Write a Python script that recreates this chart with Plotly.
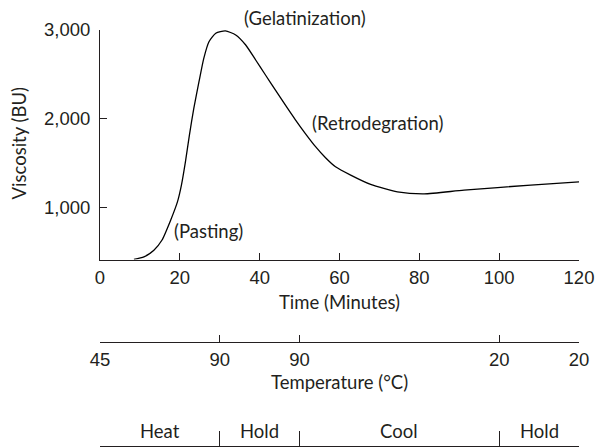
import plotly.graph_objects as go

# ---- data ----
time_min = [8.5, 11.0, 13.5, 15.5, 17.7, 19.4, 20.4, 21.4, 22.4, 23.5, 24.8, 26.0,
            27.3, 29.0, 31.4, 34.0, 36.5, 39.0, 41.5, 44.0, 46.5, 49.0, 51.5, 54.0,
            56.5, 59.0, 62.8, 67.8, 74.5, 81.2, 91.2, 107.9, 120.0]
viscosity_bu = [415, 443, 518, 630, 857, 1063, 1252, 1514, 1816, 2117, 2417, 2681,
                2868, 2963, 2990, 2944, 2831, 2662, 2490, 2320, 2150, 1985, 1830, 1685,
                1560, 1458, 1364, 1259, 1176, 1153, 1195, 1252, 1289]

time_ticks = [0, 20, 40, 60, 80, 100, 120]
visc_ticks = [1000, 2000, 3000]

temp_tick_times = [0, 30, 50, 100, 120]
temp_tick_labels = ["45", "90", "90", "20", "20"]

phase_bounds = [0, 30, 50, 100, 120]
phase_names = ["Heat", "Hold", "Cool", "Hold"]

stage_labels = ["(Gelatinization)", "(Retrodegration)", "(Pasting)"]

# ---- figure ----
INK = "#231f20"
TICKFONT = dict(family="Liberation Sans, Arial, sans-serif", size=18.5, color=INK)
TEXTFONT = dict(family="Lato, Open Sans, sans-serif", size=18.5, color=INK)

W, H = 598, 447
ML, MR, MT, MB = 100, 19, 30, 0
plot_h = H - MT - MB


def py(pix):
    """pixel row -> paper y"""
    return (H - MB - pix) / plot_h


fig = go.Figure()
fig.add_trace(go.Scatter(
    x=time_min, y=viscosity_bu, mode="lines",
    line=dict(color="black", width=1.3, shape="spline", smoothing=0.6),
    hoverinfo="skip", showlegend=False, cliponaxis=False))

# invisible helpers so that the extra axes are drawn
fig.add_trace(go.Scatter(x=phase_bounds, y=[None] * len(phase_bounds), xaxis="x2",
                         yaxis="y", mode="markers", showlegend=False, hoverinfo="skip"))
fig.add_trace(go.Scatter(x=phase_bounds, y=[None] * len(phase_bounds), xaxis="x3",
                         yaxis="y", mode="markers", showlegend=False, hoverinfo="skip"))

y_bottom = 413.4
ydom0 = py(259.5)

common_x = dict(range=[0, 120], showgrid=False, zeroline=False, showline=True,
                linecolor=INK, linewidth=1, tickcolor=INK, tickwidth=1,
                fixedrange=True)

fig.update_layout(
    width=W, height=H,
    margin=dict(l=ML, r=MR, t=MT, b=MB, pad=0),
    paper_bgcolor="white", plot_bgcolor="white",
    showlegend=False,
    xaxis=dict(**common_x, anchor="y", ticks="inside", ticklen=7,
               tickmode="array", tickvals=time_ticks, ticklabelstandoff=1,
               tickfont=TICKFONT),
    xaxis2=dict(**common_x, overlaying="x", anchor="free", position=py(341.7),
                side="bottom", ticks="inside", ticklen=7, ticklabelstandoff=1,
                tickmode="array", tickvals=temp_tick_times,
                ticktext=temp_tick_labels, tickfont=TICKFONT),
    xaxis3=dict(**common_x, overlaying="x", anchor="free", position=py(446),
                side="bottom", ticks="inside", ticklen=15,
                tickmode="array", tickvals=phase_bounds, showticklabels=False),
    yaxis=dict(domain=[ydom0, 1], range=[y_bottom, 3000], showgrid=False,
               zeroline=False, showline=True, linecolor=INK, linewidth=1,
               ticks="inside", ticklen=7, tickcolor=INK, tickwidth=1,
               tickmode="array", tickvals=visc_ticks, tickformat=",",
               ticklabelstandoff=5, tickfont=TICKFONT, fixedrange=True),
)

ann = []
# axis titles
ann.append(dict(text="Viscosity (BU)", xref="paper", yref="paper",
                x=(18.5 - ML) / (W - ML - MR), y=py(143), textangle=-90,
                showarrow=False, font=TEXTFONT, xanchor="center", yanchor="middle"))
ann.append(dict(text="Time (Minutes)", xref="x", yref="paper", x=60, y=py(301.7),
                showarrow=False, font=TEXTFONT, xanchor="center", yanchor="middle"))
ann.append(dict(text="Temperature (°C)", xref="x", yref="paper", x=60, y=py(381.7),
                showarrow=False, font=TEXTFONT, xanchor="center", yanchor="middle"))
# stage labels on the curve
ann.append(dict(text=stage_labels[0], xref="x", yref="paper", x=51.3, y=py(18.3),
                showarrow=False, font=TEXTFONT, xanchor="center", yanchor="middle"))
ann.append(dict(text=stage_labels[1], xref="x", yref="paper", x=69.5, y=py(123.3),
                showarrow=False, font=TEXTFONT, xanchor="center", yanchor="middle"))
ann.append(dict(text=stage_labels[2], xref="x", yref="paper", x=27.1, y=py(231),
                showarrow=False, font=TEXTFONT, xanchor="center", yanchor="middle"))
# phase names
for i, name in enumerate(phase_names):
    mid = (phase_bounds[i] + phase_bounds[i + 1]) / 2
    ann.append(dict(text=name, xref="x", yref="paper", x=mid, y=py(431),
                    showarrow=False, font=TEXTFONT, xanchor="center", yanchor="middle"))
fig.update_layout(annotations=ann)

fig.write_html("out.html", config={"displayModeBar": False},
               post_script="document.body.style.margin='0';document.body.style.padding='0';")
